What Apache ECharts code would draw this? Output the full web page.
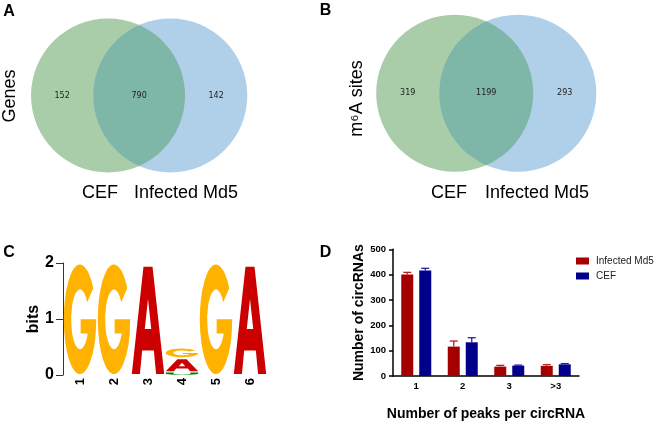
<!DOCTYPE html>
<html><head><meta charset="utf-8">
<script src="https://cdn.jsdelivr.net/npm/echarts@6/dist/echarts.min.js"></script>
<style>html,body{margin:0;padding:0;background:#fff}#c{width:660px;height:431px}</style>
</head><body><div id="c"></div>
<script>
// ---------------- data ----------------
const vennSets = ['CEF', 'Infected Md5'];
const vennCountsA = [152, 790, 142];     // CEF only, shared, Infected only (Genes)
const vennCountsB = [319, 1199, 293];    // CEF only, shared, Infected only (m6A sites)
const logoPositions = ['1', '2', '3', '4', '5', '6'];
const logoBitsU = [0, 0, 0, 0.05, 0, 0];
const logoBitsA = [0, 0, 1.95, 0.25, 0, 1.95];
const logoBitsG = [1.99, 1.99, 0, 0.19, 1.99, 0];
const peakCategories = ['1', '2', '3', '>3'];
const infectedMean = [401, 116, 37, 40];
const infectedErr = [8, 22, 5, 5];
const cefMean = [416, 133, 41, 46];
const cefErr = [9, 18, 2, 3];

// ---------------- styling / layout ----------------
const FONT = '"Liberation Sans", Arial, sans-serif';
const VENN_SEP_A = 0.809, VENN_SEP_B = 0.804;
const COL_SET1 = '#A9CDA9', COL_SET2 = '#B0D0EA', COL_BOTH = '#7EB6A8';
const RED = '#A50000', BLUE = '#00008B';
const BAR_W = 12, BAR_GAP = 6;
const GLYPHS = {
  G: 'M90.96,21.32 A50,50 0 1 0 100,50 L52,50 L52,63 L74,63 A27.3,27.3 0 1 1 72.36,34.34 Z',
  A: 'M0,100 L36,0 L64,0 L100,100 L75,100 L68,78 L32,78 L25,100 Z M40,58 L60,58 L50,30 Z',
  U: 'M0,0 L24,0 L24,62 A26,26 0 0 0 76,62 L76,0 L100,0 L100,62 A50,38 0 0 1 0,62 Z'
};
const LOGO_COLORS = { G: '#FFB300', A: '#CC0000', U: '#008000' };

function vennRender(sep) {
  return function (params, api) {
    const i = params.dataIndex;
    const half = sep / 2;
    const c1 = api.coord([-half, 0]), c2 = api.coord([half, 0]);
    const R = api.size([1, 0])[0];
    const children = [];
    if (i === 0) {
      children.push({ type: 'circle', shape: { cx: c1[0], cy: c1[1], r: R }, style: { fill: COL_SET1 } });
      children.push({ type: 'circle', shape: { cx: c2[0], cy: c2[1], r: R }, style: { fill: COL_SET2 } });
      const d = c2[0] - c1[0];
      const a = Math.acos(d / 2 / R);
      const pts = [], N = 80;
      for (let k = 0; k <= N; k++) { const t = -a + 2 * a * k / N; pts.push([c1[0] + R * Math.cos(t), c1[1] + R * Math.sin(t)]); }
      for (let k = 0; k <= N; k++) { const t = Math.PI - a + 2 * a * k / N; pts.push([c2[0] + R * Math.cos(t), c2[1] + R * Math.sin(t)]); }
      children.push({ type: 'polygon', shape: { points: pts }, style: { fill: COL_BOTH } });
    }
    const regionX = [-1, 0, 1][i];
    const p = api.coord([regionX, 0]);
    children.push({ type: 'text', x: p[0], y: p[1], style: { text: String(api.value(1)), font: '8px "DejaVu Sans"', fill: '#222', align: 'center', verticalAlign: 'middle', textAlign: 'center', textVerticalAlign: 'middle' } });
    return { type: 'group', children };
  };
}

function logoRender(params, api) {
  const i = params.dataIndex;
  const stack = [['U', logoBitsU[i]], ['A', logoBitsA[i]], ['G', logoBitsG[i]]];
  const colW = api.size([1, 0])[0];
  const cx = api.coord([i, 0])[0];
  let base = 0;
  const children = [];
  stack.forEach(([ch, h]) => {
    if (h <= 0) return;
    const yBot = api.coord([i, base])[1];
    const yTop = api.coord([i, base + h])[1];
    base += h;
    const pad = Math.min(1, (yBot - yTop) * 0.12);
    children.push({ type: 'path', shape: { pathData: GLYPHS[ch], x: cx - colW / 2 + 0.8, y: yTop + pad, width: colW - 1.6, height: yBot - yTop - 2 * pad, layout: 'cover' }, style: { fill: LOGO_COLORS[ch] } });
  });
  return { type: 'group', children };
}

const errData = [];
infectedMean.forEach((m, i) => errData.push([i, m, infectedErr[i], 0]));
cefMean.forEach((m, i) => errData.push([i, m, cefErr[i], 1]));
function errRender(params, api) {
  const i = api.value(0), m = api.value(1), e = api.value(2), s = api.value(3);
  const off = (s === 0 ? -1 : 1) * (BAR_W + BAR_GAP) / 2;
  const p0 = api.coord([i, m]), p1 = api.coord([i, m + e]);
  const x = p0[0] + off;
  const col = s === 0 ? '#B82020' : '#2020A0';
  return { type: 'group', children: [
    { type: 'line', shape: { x1: x, y1: p0[1], x2: x, y2: p1[1] }, style: { stroke: col, lineWidth: 1.3 } },
    { type: 'line', shape: { x1: x - 4, y1: p1[1], x2: x + 4, y2: p1[1] }, style: { stroke: col, lineWidth: 1.3 } }
  ] };
}

function txt(text, x, y, font, rot) {
  return { type: 'text', x: x, y: y, rotation: rot || 0, silent: true,
    style: { text: text, font: font, fill: '#000', align: 'center', verticalAlign: 'middle', textAlign: 'center', textVerticalAlign: 'middle' } };
}

const chart = echarts.init(document.getElementById('c'), null, { renderer: 'canvas' });
chart.setOption({
  animation: false,
  backgroundColor: '#fff',
  textStyle: { fontFamily: FONT },
  grid: [
    { left: 15.95, top: 3.1, width: 246.4, height: 184.8, outerBoundsMode: 'none' },
    { left: 360.65, top: 3, width: 251.2, height: 180.55, outerBoundsMode: 'none' },
    { left: 63, top: 263, width: 204, height: 112, outerBoundsMode: 'none' },
    { left: 393, top: 249.3, width: 186, height: 126.7, outerBoundsMode: 'none' }
  ],
  xAxis: [
    { gridIndex: 0, type: 'value', min: -1.6, max: 1.6, show: false },
    { gridIndex: 1, type: 'value', min: -1.6, max: 1.6, show: false },
    { gridIndex: 2, type: 'category', data: logoPositions, axisLine: { show: false }, axisTick: { show: false },
      axisLabel: { rotate: 90, margin: 3, fontSize: 13, fontWeight: 'bold', color: '#000', fontFamily: FONT } },
    { gridIndex: 3, type: 'category', data: peakCategories,
      axisLine: { lineStyle: { color: '#000', width: 1.5 } },
      axisTick: { alignWithLabel: true, length: 4, lineStyle: { color: '#000', width: 1.5 } },
      axisLabel: { margin: 5, fontSize: 9.5, fontWeight: 'bold', color: '#000', fontFamily: FONT },
      name: 'Number of peaks per circRNA', nameLocation: 'middle', nameGap: 31,
      nameTextStyle: { fontSize: 14, fontWeight: 'bold', color: '#000', fontFamily: FONT } }
  ],
  yAxis: [
    { gridIndex: 0, type: 'value', min: -1.2, max: 1.2, show: false },
    { gridIndex: 1, type: 'value', min: -1.15, max: 1.15, show: false },
    { gridIndex: 2, type: 'value', min: 0, max: 2, interval: 1,
      axisLine: { show: true, lineStyle: { color: '#333', width: 1 } },
      axisTick: { show: true, length: 7, lineStyle: { color: '#333', width: 1 } },
      axisLabel: { margin: 9, fontSize: 16, fontWeight: 'bold', color: '#000', fontFamily: FONT },
      splitLine: { show: false },
      name: 'bits', nameLocation: 'middle', nameGap: 19,
      nameTextStyle: { fontSize: 16, fontWeight: 'bold', color: '#000', fontFamily: FONT } },
    { gridIndex: 3, type: 'value', min: 0, max: 500, interval: 100,
      axisLine: { show: true, lineStyle: { color: '#000', width: 1.5 } },
      axisTick: { show: true, length: 4, lineStyle: { color: '#000', width: 1.5 } },
      axisLabel: { margin: 7, fontSize: 9.5, fontWeight: 'bold', color: '#000', fontFamily: FONT },
      splitLine: { show: false },
      name: 'Number of circRNAs', nameLocation: 'middle', nameGap: 24,
      nameTextStyle: { fontSize: 14, fontWeight: 'bold', color: '#000', fontFamily: FONT } }
  ],
  legend: {
    data: ['Infected Md5', 'CEF'], orient: 'vertical', left: 571, top: 251,
    itemWidth: 13, itemHeight: 7, itemGap: 5, icon: 'rect', selectedMode: false,
    textStyle: { fontSize: 10, color: '#222', fontFamily: FONT, padding: [0, 0, 0, 2] }
  },
  series: [
    { type: 'custom', name: 'vennA', xAxisIndex: 0, yAxisIndex: 0, renderItem: vennRender(VENN_SEP_A),
      data: vennCountsA.map((v, i) => [i, v]), silent: true },
    { type: 'custom', name: 'vennB', xAxisIndex: 1, yAxisIndex: 1, renderItem: vennRender(VENN_SEP_B),
      data: vennCountsB.map((v, i) => [i, v]), silent: true },
    { type: 'custom', name: 'logo', xAxisIndex: 2, yAxisIndex: 2, renderItem: logoRender,
      data: logoPositions.map((p, i) => [i, logoBitsU[i] + logoBitsA[i] + logoBitsG[i]]), silent: true },
    { type: 'bar', name: 'Infected Md5', xAxisIndex: 3, yAxisIndex: 3, data: infectedMean,
      barWidth: BAR_W, barGap: (BAR_GAP / BAR_W * 100) + '%', itemStyle: { color: RED } },
    { type: 'bar', name: 'CEF', xAxisIndex: 3, yAxisIndex: 3, data: cefMean,
      barWidth: BAR_W, itemStyle: { color: BLUE } },
    { type: 'custom', name: 'err', xAxisIndex: 3, yAxisIndex: 3, renderItem: errRender, data: errData, z: 3, silent: true }
  ],
  graphic: [
    txt('A', 9, 12, 'bold 16px ' + FONT),
    txt('B', 325.5, 11, 'bold 16px ' + FONT),
    txt('C', 9, 252.5, 'bold 16px ' + FONT),
    txt('D', 325.5, 252.5, 'bold 16px ' + FONT),
    txt('Genes', 10, 96, '18px ' + FONT, Math.PI / 2),
    txt('m\u2076A sites', 357, 98.5, '18px ' + FONT, Math.PI / 2),
    txt(vennSets[0], 100, 192.7, '18px ' + FONT),
    txt(vennSets[1], 186, 192.7, '18px ' + FONT),
    txt(vennSets[0], 449, 192.7, '18px ' + FONT),
    txt(vennSets[1], 537, 192.7, '18px ' + FONT)
  ]
});
</script></body></html>
